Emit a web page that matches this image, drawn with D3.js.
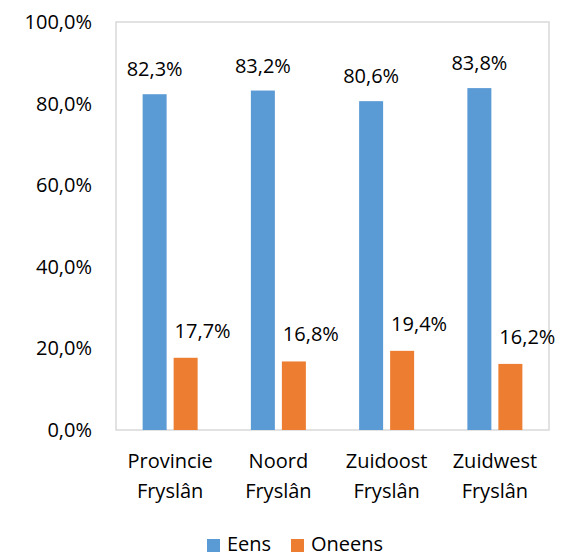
<!DOCTYPE html>
<html>
<head>
<meta charset="utf-8">
<script src="https://cdn.jsdelivr.net/npm/d3@7"></script>
<style>
  body { margin: 0; background: #fff; }
  text { font-family: "Open Sans", sans-serif; fill: #000; }
</style>
</head>
<body>
<div id="chart"></div>
<script>
// categories and series
const regions = [["Provincie", "Fryslân"], ["Noord", "Fryslân"], ["Zuidoost", "Fryslân"], ["Zuidwest", "Fryslân"]];
const seriesNames = ["Eens", "Oneens"];
const eens = [82.3, 83.2, 80.6, 83.8];
const oneens = [17.7, 16.8, 19.4, 16.2];
const yTicks = [0, 20, 40, 60, 80, 100];

const colors = ["#5b9bd5", "#ed7d31"];

const width = 583, height = 556;
const margins = {top: 22, right: 34, bottom: 126, left: 116};

const svg = d3.select("#chart")
  .append("svg")
    .attr("width", width)
    .attr("height", height);

const keys = regions.map(d => d.join(" "));
const rows = keys.map((k, i) => ({key: k, values: [eens[i], oneens[i]]}));

/* scales */
const x0 = d3.scaleBand()
  .domain(keys)
  .range([margins.left, width - margins.right])
  .paddingInner(0.492)
  .paddingOuter(0.246);

const x1 = d3.scaleBand()
  .domain(seriesNames)
  .range([0, x0.bandwidth()])
  .paddingInner(0.226);

const y = d3.scaleLinear()
  .domain([0, 100])
  .range([height - margins.bottom, margins.top]);

/* plot border */
svg.append("rect")
  .attr("x", margins.left)
  .attr("y", margins.top)
  .attr("width", width - margins.left - margins.right)
  .attr("height", height - margins.top - margins.bottom)
  .style("fill", "none")
  .style("stroke", "#d9d9d9")
  .style("stroke-width", 1.5);

/* y axis labels */
const fmt = v => d3.format(".1f")(v).replace(".", ",") + "%";
const yAxis = d3.axisLeft(y).tickValues(yTicks).tickSize(0).tickPadding(24).tickFormat(fmt);
const yGroup = svg.append("g")
  .attr("transform", `translate(${margins.left},0)`)
  .call(yAxis);
yGroup.select(".domain").remove();
yGroup.selectAll("text")
  .style("font-family", "'Open Sans', sans-serif")
  .style("font-size", "20px")
  .style("fill", "#000");

/* bars */
const groups = svg.selectAll("g.cat")
  .data(rows)
  .join("g")
    .attr("class", "cat")
    .attr("transform", d => `translate(${x0(d.key)},0)`);

groups.selectAll("rect")
  .data(d => d.values.map((v, i) => ({name: seriesNames[i], value: v, i})))
  .join("rect")
    .attr("x", d => x1(d.name))
    .attr("y", d => y(d.value))
    .attr("width", x1.bandwidth())
    .attr("height", d => y(0) - y(d.value))
    .style("fill", d => colors[d.i]);

/* value labels (orange ones sit a little to the right, as in the original) */
groups.selectAll("text.val")
  .data(d => d.values.map((v, i) => ({name: seriesNames[i], value: v, i})))
  .join("text")
    .attr("class", "val")
    .attr("x", d => x1(d.name) + x1.bandwidth() / 2 + (d.i === 1 ? 17 : 0))
    .attr("y", d => y(d.value) - (d.i === 1 ? 20 : 18))
    .attr("text-anchor", "middle")
    .style("font-size", "20px")
    .text(d => fmt(d.value));

/* category labels */
const xLab = svg.selectAll("text.cat")
  .data(regions)
  .join("text")
    .attr("class", "cat")
    .attr("text-anchor", "middle")
    .attr("x", (d, i) => x0(keys[i]) + x0.bandwidth() / 2)
    .attr("y", height - margins.bottom + 38)
    .style("font-size", "20px");
xLab.selectAll("tspan")
  .data(d => d)
  .join("tspan")
    .attr("x", function() { return this.parentNode.getAttribute("x"); })
    .attr("dy", (d, i) => i === 0 ? 0 : 30)
    .text(d => d);

/* legend */
const legendX = [207, 291];
const legend = svg.selectAll("g.legend")
  .data(seriesNames)
  .join("g")
    .attr("class", "legend")
    .attr("transform", (d, i) => `translate(${legendX[i]},${height - 17})`);
legend.append("rect")
  .attr("x", 0)
  .attr("y", 0)
  .attr("width", 13)
  .attr("height", 13)
  .style("fill", (d, i) => colors[i]);
legend.append("text")
  .attr("x", 20)
  .attr("y", 12)
  .style("font-size", "20px")
  .text(d => d);
</script>
</body>
</html>
